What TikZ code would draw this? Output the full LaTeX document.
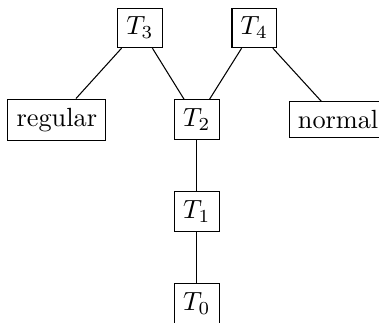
\documentclass[tikz,border=0pt]{standalone}
\usetikzlibrary{positioning}
\tikzset{tbox/.style={draw,rectangle}}

\begin{document}
\begin{tikzpicture}
  \useasboundingbox (0,0) rectangle (5.067,-4.305);
  \node[tbox] (t3) at (1.87,-0.374) {$T_3$};
  \node[tbox] (t4) at (3.40,-0.374) {$T_4$};
  \node[tbox] (reg) at (0.76,-1.60) {regular};
  \node[tbox] (t2) at (2.63,-1.60) {$T_2$};
  \node[tbox] (nor) at (4.52,-1.60) {normal};
  \node[tbox] (t1) at (2.63,-2.83) {$T_1$};
  \node[tbox] (t0) at (2.63,-4.06) {$T_0$};
  \draw (t3)--(reg);
  \draw (t3)--(t2);
  \draw (t4)--(t2);
  \draw (t4)--(nor);
  \draw (t2)--(t1);
  \draw (t1)--(t0);
\end{tikzpicture}
\end{document}
